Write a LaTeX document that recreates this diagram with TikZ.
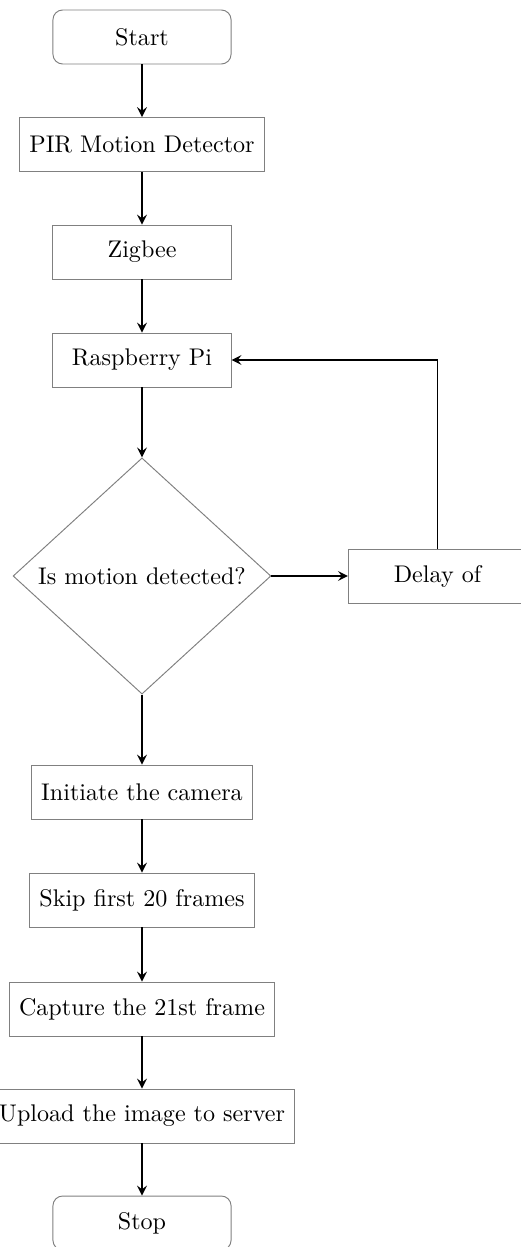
\documentclass[tikz,border=0pt]{standalone}
\usetikzlibrary{shapes.geometric}
\usetikzlibrary{arrows}

\tikzset{
  process/.style={draw=gray, rectangle, minimum width=73.9pt, minimum height=22.4pt, inner xsep=4pt},
  terminal/.style={process, rounded corners=4pt},
  decision/.style={draw=gray, diamond, minimum width=107pt, minimum height=98pt, inner sep=0pt},
  flow/.style={->, >=stealth, thick}
}

\begin{document}
\begin{tikzpicture}[x=0.415pt, y=-0.415pt]
  \useasboundingbox (0,0) rectangle (521,1247);

  % Define the nodes
  \node[terminal] (start) at (142,37) {Start};
  \node[process] (pir) at (142,144.5) {PIR Motion Detector};
  \node[process] (zigbee) at (142,252) {Zigbee};
  \node[process] (rpi) at (142,360) {Raspberry Pi};
  \node[decision] (motion) at (142,576) {Is motion detected?};
  \node[process] (delay) at (437.5,576) {Delay of};
  \node[process] (camera) at (142,792) {Initiate the camera};
  \node[process] (skip) at (142,900) {Skip first 20 frames};
  \node[process] (capture) at (142,1009) {Capture the 21st frame};
  \node[process] (upload) at (142,1116) {Upload the image to server};
  \node[terminal] (stop) at (142,1223) {Stop};

  % Draw the arrows
  \foreach \from/\to in {start/pir, pir/zigbee, zigbee/rpi, rpi/motion, motion/camera, camera/skip, skip/capture, capture/upload, upload/stop}
    \draw[flow] (\from) -- (\to);
  \draw[flow] (motion) -- (delay);
  \draw[flow] (delay.north) |- (rpi.east);
\end{tikzpicture}
\end{document}
